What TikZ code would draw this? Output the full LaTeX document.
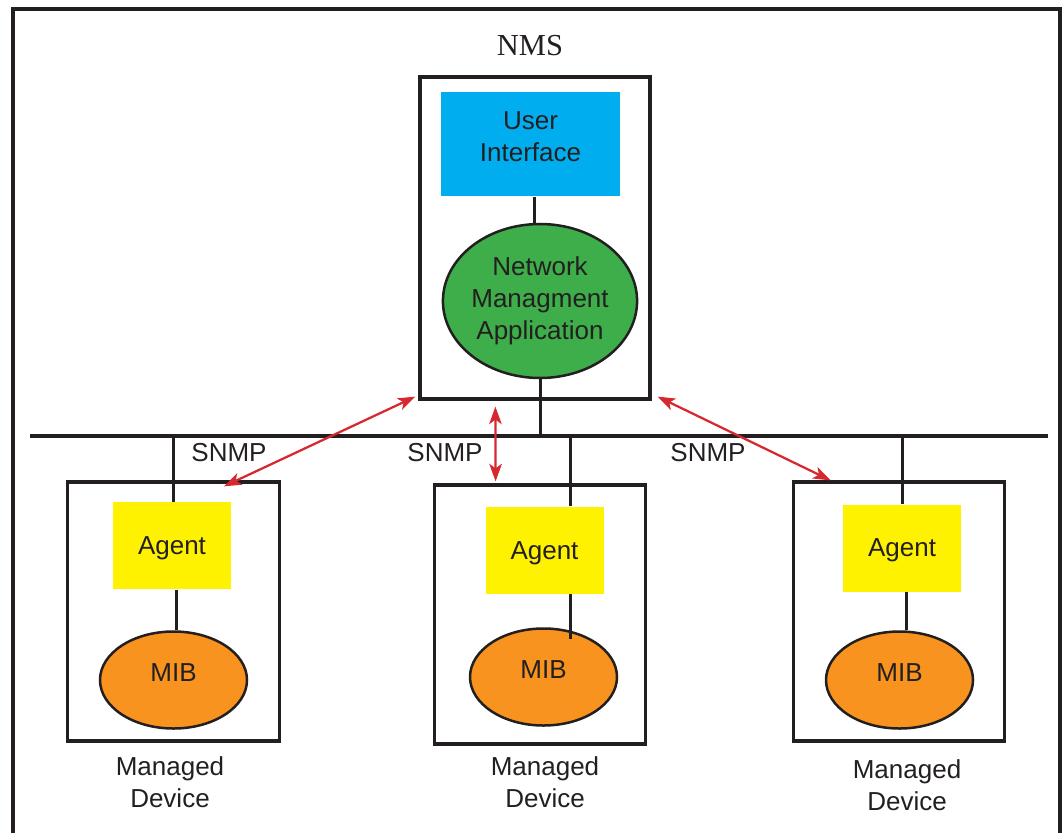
\documentclass[tikz,border=0pt]{standalone}
\usepackage{fontspec}
\setmainfont{Liberation Sans}
\newfontfamily\nmsfont{Liberation Serif}
\usetikzlibrary{arrows.meta,calc,shapes.geometric}
\definecolor{ink}{HTML}{231F20}
\definecolor{uiblue}{HTML}{00AEEF}
\definecolor{appgreen}{HTML}{3DAE49}
\definecolor{agentyellow}{HTML}{FFF200}
\definecolor{miborange}{HTML}{F7931E}
\definecolor{snmpred}{HTML}{D7282F}
\newcommand{\nudge}[2]{\raisebox{#1}[\height][\depth]{#2}}
\tikzset{
  frame/.style={draw=ink, line width=1.3pt, inner sep=0pt},
  device/.style={frame, minimum width=84.6pt, minimum height=103.6pt},
  agentbox/.style={fill=agentyellow, inner sep=0pt, minimum width=47.2pt, minimum height=34.8pt},
  mib/.style={ellipse, draw=ink, line width=1pt, fill=miborange, inner sep=0pt,
    minimum width=58.8pt, minimum height=38.8pt},
  wire/.style={draw=ink, line width=1.2pt},
  snmp/.style={draw=snmpred, line width=0.9pt,
    {Stealth[length=7pt,width=5pt,inset=1.8pt]}-{Stealth[length=7pt,width=5pt,inset=1.8pt]}}
}
\begin{document}
\begin{tikzpicture}[x=0.4pt, y=-0.4pt, text=ink, font=\fontsize{10.4}{12.8}\selectfont]
  \useasboundingbox (0,0) rectangle (1063,832);
  \draw[draw=ink, line width=1.3pt] (13,845) -- (13,9) -- (1060,9) -- (1060,845);

  % NMS
  \node[font=\nmsfont\fontsize{12.2}{14}\selectfont] (nmslbl) at (530,46) {NMS};
  \node[frame, minimum width=92pt, minimum height=128.8pt] (nms) at (535,238) {};
  \node[fill=uiblue, inner sep=0pt, minimum width=71.6pt, minimum height=41.6pt] (ui) at (530.5,144)
    {\nudge{2pt}{\begin{tabular}{@{}c@{}}User\\Interface\end{tabular}}};
  \node[ellipse, draw=ink, line width=1pt, fill=appgreen, inner sep=0pt,
    minimum width=73.6pt, minimum height=61.6pt, align=center] (app) at (540,301) {Network\\Managment\\Application};
  \draw[wire] (ui.south -| 534,0) -- (app.north -| 534,0);

  % bus
  \coordinate (busW) at (30,436);
  \coordinate (busE) at (1048,436);
  \draw[draw=ink, line width=1.3pt] (busW) -- (busE);
  \draw[wire] (app.south) -- (app.south |- busW);

  % managed devices
  \node[device] (devA) at (173.5,611.5) {};
  \node[device] (devB) at (540,614.5) {};
  \node[device] (devC) at (899,611.5) {};

  \node[agentbox] (agentA) at (172,545.5) {\nudge{-1.2pt}{Agent}};
  \node[agentbox] (agentB) at (544.5,550) {\nudge{-1.2pt}{Agent}};
  \node[agentbox] (agentC) at (902,548) {\nudge{-0.8pt}{Agent}};

  \node[mib] (mibA) at (173.5,680) {\nudge{2.8pt}{MIB}};
  \node[mib] (mibB) at (543.5,677) {\nudge{2.8pt}{MIB}};
  \node[mib] (mibC) at (899.5,680) {\nudge{2.8pt}{MIB}};

  \draw[wire] (agentA.north -| 173,0) -- (busW -| 173,0);
  \draw[wire] ($(agentB.north)+(26,0)$) -- ($(agentB.north |- busW)+(26,0)$);
  \draw[wire] (agentC.north) -- (agentC.north |- busW);

  \draw[wire] (agentA.south -| 176,0) -- (mibA.north -| 176,0);
  \draw[wire] ($(agentB.south)+(26,0)$) -- ++(0,45);
  \draw[wire] (agentC.south -| 906,0) -- (mibC.north -| 906,0);

  \node[align=center] (lblA) at (170,782) {Managed\\Device};
  \node[align=center] (lblB) at (545,782) {Managed\\Device};
  \node[align=center] (lblC) at (907,785) {Managed\\Device};

  % SNMP traffic
  \node (snmpA) at (229,453) {SNMP};
  \node (snmpB) at (445,453) {SNMP};
  \node (snmpC) at (708,453) {SNMP};
  \draw[snmp] ($(devA.north east)+(-57,6)$) -- ($(nms.south west)+(-3,-4)$);
  \draw[snmp] ($(nms.south west)+(77,6)$) -- ($(devB.north west)+(63,-2)$);
  \draw[snmp] ($(nms.south east)+(6,-4)$) -- ($(devC.north west)+(39,0)$);
\end{tikzpicture}
\end{document}
